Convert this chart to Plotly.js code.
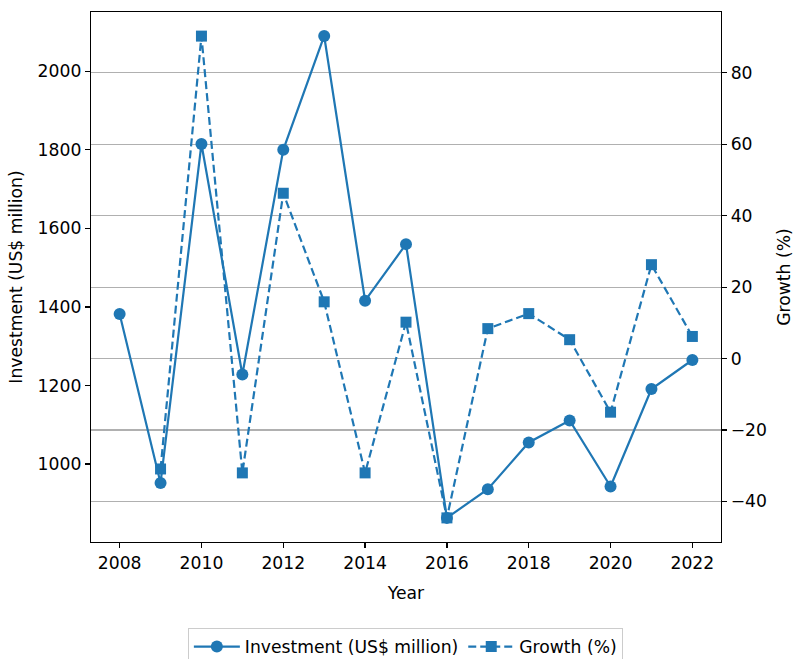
<!DOCTYPE html>
<html>
<head>
<meta charset="utf-8">
<script src="https://cdn.plot.ly/plotly-3.0.1.min.js"></script>
<style>html,body{margin:0;padding:0;background:#fff;}#chart{width:795px;height:659px;}</style>
</head>
<body>
<div id="chart"></div>
<script>
const years = [2008, 2009, 2010, 2011, 2012, 2013, 2014, 2015, 2016, 2017, 2018, 2019, 2020, 2021, 2022];
const investment = [1382, 952, 1815, 1228, 1800, 2090, 1416, 1560, 863, 936, 1055, 1111, 943, 1191, 1265];
const growth = [null, -30.9, 90.3, -32.0, 46.3, 15.9, -32.0, 10.2, -44.6, 8.4, 12.6, 5.3, -15.0, 26.3, 6.2];
const xTicks = [2008, 2010, 2012, 2014, 2016, 2018, 2020, 2022];

const color = '#1f77b4';
const font = {family: 'DejaVu Sans', size: 17.2, color: '#000'};

const traces = [
  {
    x: years, y: investment, name: 'Investment (US$ million)',
    type: 'scatter', mode: 'lines+markers',
    line: {color: color, width: 2.2},
    marker: {symbol: 'circle', size: 12, color: color},
    yaxis: 'y'
  },
  {
    x: years, y: growth, name: 'Growth (%)',
    type: 'scatter', mode: 'lines+markers',
    line: {color: color, width: 2.2, dash: '8px,4px'},
    marker: {symbol: 'square', size: 11, color: color},
    yaxis: 'y2', connectgaps: false
  }
];

const layout = {
  width: 795, height: 659,
  margin: {l: 91, r: 74, t: 12, b: 117, pad: 0, autoexpand: false},
  paper_bgcolor: '#fff', plot_bgcolor: '#fff',
  font: font,
  showlegend: true,
  legend: {
    orientation: 'h', x: 0.499, xanchor: 'center', y: -0.162, yanchor: 'top',
    bordercolor: '#cccccc', borderwidth: 1, bgcolor: '#fff',
    font: font, itemwidth: 46
  },
  xaxis: {
    range: [2007.3, 2022.7], tickvals: xTicks, ticktext: xTicks.map(String),
    ticks: 'outside', ticklen: 5, tickwidth: 1.2, tickcolor: '#000',
    showline: true, linecolor: '#000', linewidth: 1.2, mirror: true,
    showgrid: false, zeroline: false,
    title: {text: 'Year', font: font, standoff: 15},
    tickfont: font
  },
  yaxis: {
    range: [801.6, 2151], dtick: 200, tick0: 0,
    ticks: 'outside', ticklen: 5, tickwidth: 1.2, tickcolor: '#000',
    showline: true, linecolor: '#000', linewidth: 1.2,
    showgrid: false, zeroline: false,
    title: {text: 'Investment (US$ million)', font: font, standoff: 10},
    tickfont: font
  },
  yaxis2: {
    overlaying: 'y', side: 'right',
    range: [-51.35, 97.05], dtick: 20, tick0: 0,
    ticks: 'outside', ticklen: 5, tickwidth: 1.2, tickcolor: '#000',
    showline: true, linecolor: '#000', linewidth: 1.2,
    showgrid: true, gridcolor: '#b0b0b0', gridwidth: 1.2, zeroline: false,
    title: {text: 'Growth (%)', font: font, standoff: 12},
    tickfont: font
  }
};

Plotly.newPlot('chart', traces, layout, {displayModeBar: false, staticPlot: true});
</script>
</body>
</html>
